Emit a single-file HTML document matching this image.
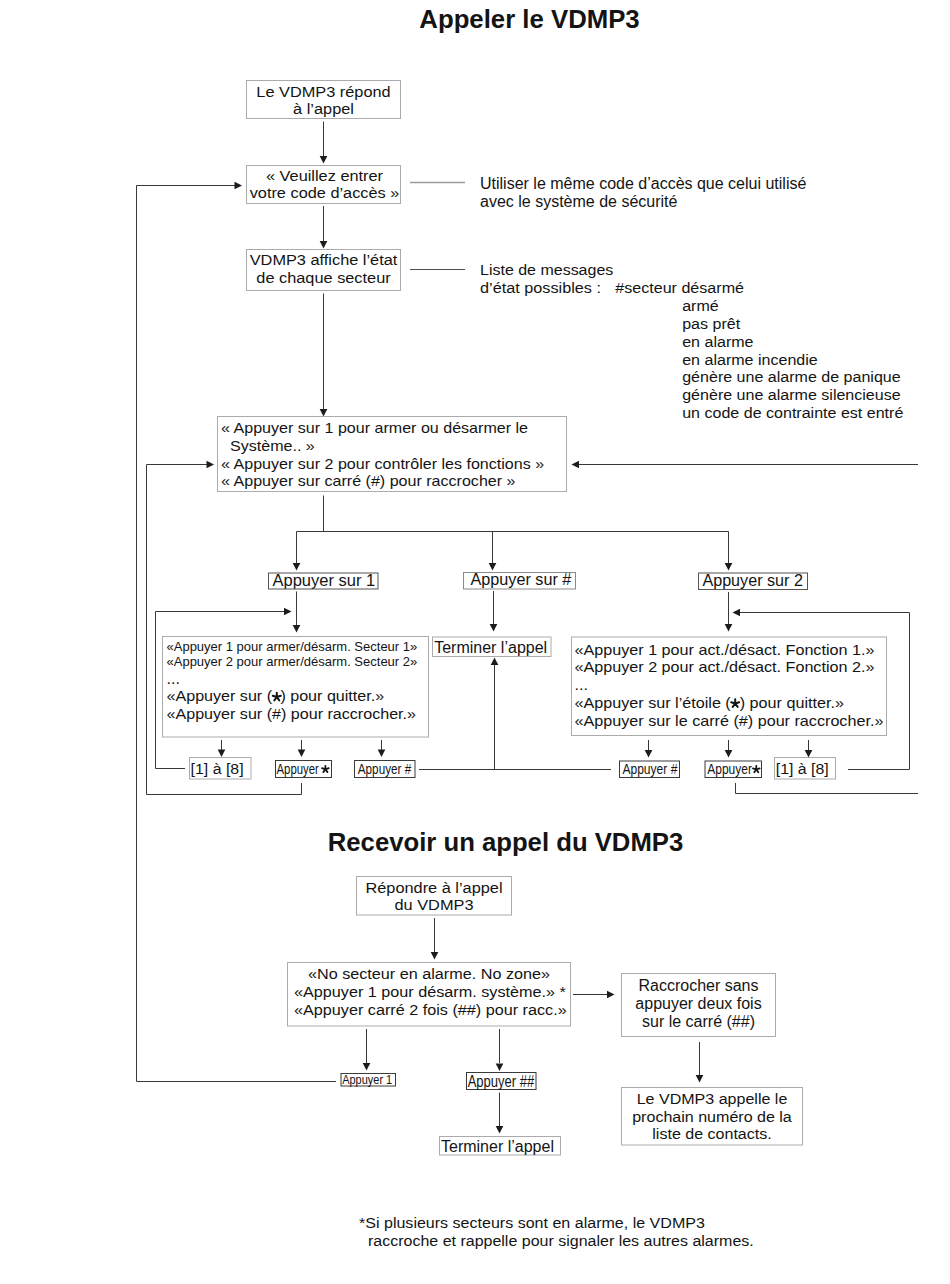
<!DOCTYPE html>
<html><head><meta charset="utf-8"><style>
html,body{margin:0;padding:0;background:#fff;}
body{width:950px;height:1284px;overflow:hidden;}
svg{display:block;}
text{font-family:"Liberation Sans", sans-serif;font-size:16px;fill:#141414;}
</style></head><body>
<svg width="950" height="1284" viewBox="0 0 950 1284">
<rect width="950" height="1284" fill="#fff"/>
<text x="529.5" y="27.5" text-anchor="middle" style="font-size:25.75px;font-weight:bold">Appeler le VDMP3</text>
<text x="505.5" y="850.5" text-anchor="middle" style="font-size:25.7px;font-weight:bold">Recevoir un appel du VDMP3</text>
<rect x="246.5" y="80.5" width="154.0" height="38.0" fill="none" stroke="#ababab" stroke-width="1"/>
<text transform="translate(323.5,96.5) scale(1.075,1)" text-anchor="middle" style="font-size:15.209px">Le VDMP3 répond</text>
<text transform="translate(323.5,113.5) scale(1.075,1)" text-anchor="middle" style="font-size:15.209px">à l’appel</text>
<polyline points="323.5,121.5 323.5,156" fill="none" stroke="#383838" stroke-width="1"/>
<polygon points="319.7,156.0 327.3,156.0 323.5,163.5" fill="#1c1c1c"/>
<rect x="246.5" y="165.5" width="154.0" height="38.0" fill="none" stroke="#ababab" stroke-width="1"/>
<text transform="translate(324.5,180.5) scale(1.075,1)" text-anchor="middle" style="font-size:15.209px">« Veuillez entrer</text>
<text transform="translate(324.5,198) scale(1.075,1)" text-anchor="middle" style="font-size:15.209px">votre code d’accès »</text>
<polyline points="323.5,206 323.5,242" fill="none" stroke="#383838" stroke-width="1"/>
<polygon points="319.7,241.0 327.3,241.0 323.5,248.5" fill="#1c1c1c"/>
<rect x="246.5" y="249.5" width="154.0" height="41.0" fill="none" stroke="#ababab" stroke-width="1"/>
<text transform="translate(323.5,265) scale(1.075,1)" text-anchor="middle" style="font-size:15.209px">VDMP3 affiche l’état</text>
<text transform="translate(323.5,283) scale(1.075,1)" text-anchor="middle" style="font-size:15.209px">de chaque secteur</text>
<polyline points="323.5,293.5 323.5,410" fill="none" stroke="#383838" stroke-width="1"/>
<polygon points="319.7,409.0 327.3,409.0 323.5,416.5" fill="#1c1c1c"/>
<polyline points="410,182.5 465,182.5" fill="none" stroke="#9a9a9a" stroke-width="1.3"/>
<polyline points="410,269.5 465,269.5" fill="none" stroke="#505050" stroke-width="1"/>
<text x="480" y="188.5">Utiliser le même code d’accès que celui utilisé</text>
<text x="480" y="207">avec le système de sécurité</text>
<text transform="translate(480,275) scale(1.05,1)" style="font-size:15.238px">Liste de messages</text>
<text transform="translate(480,293) scale(1.05,1)" style="font-size:15.476px">d’état possibles :</text>
<text transform="translate(615.2,293) scale(1.05,1)" style="font-size:15.333px">#secteur désarmé</text>
<text transform="translate(682.2,311.2) scale(1.04,1)" style="font-size:15.433px">armé</text>
<text transform="translate(682.2,329.0) scale(1.04,1)" style="font-size:15.433px">pas prêt</text>
<text transform="translate(682.2,346.8) scale(1.04,1)" style="font-size:15.433px">en alarme</text>
<text transform="translate(682.2,364.6) scale(1.04,1)" style="font-size:15.433px">en alarme incendie</text>
<text transform="translate(682.2,382.4) scale(1.04,1)" style="font-size:15.433px">génère une alarme de panique</text>
<text transform="translate(682.2,400.2) scale(1.04,1)" style="font-size:15.433px">génère une alarme silencieuse</text>
<text transform="translate(682.2,418.0) scale(1.04,1)" style="font-size:15.433px">un code de contrainte est entré</text>
<polyline points="336,1081.5 136.5,1081.5 136.5,185.5 235,185.5" fill="none" stroke="#383838" stroke-width="1"/>
<polygon points="234.5,181.7 234.5,189.3 242,185.5" fill="#1c1c1c"/>
<rect x="217.5" y="416.5" width="349.0" height="75.0" fill="none" stroke="#ababab" stroke-width="1"/>
<text transform="translate(221,433.3) scale(1.1,1)" style="font-size:14.609px">« Appuyer sur 1 pour armer ou désarmer le</text>
<text transform="translate(230,451) scale(1.1,1)" style="font-size:14.609px">Système.. »</text>
<text transform="translate(221,468.8) scale(1.1,1)" style="font-size:14.609px">« Appuyer sur 2 pour contrôler les fonctions »</text>
<text transform="translate(221,485.9) scale(1.1,1)" style="font-size:14.609px">« Appuyer sur carré (#) pour raccrocher »</text>
<polyline points="146.5,794.5 146.5,464.5 207,464.5" fill="none" stroke="#383838" stroke-width="1"/>
<polygon points="206.5,460.7 206.5,468.3 214,464.5" fill="#1c1c1c"/>
<polyline points="918,464.5 579,464.5" fill="none" stroke="#383838" stroke-width="1"/>
<polygon points="579.0,460.7 579.0,468.3 571.5,464.5" fill="#1c1c1c"/>
<polyline points="323.5,495.5 323.5,531.5" fill="none" stroke="#383838" stroke-width="1"/>
<polyline points="296.5,531.5 728.5,531.5" fill="none" stroke="#383838" stroke-width="1"/>
<polyline points="296.5,531.5 296.5,563" fill="none" stroke="#383838" stroke-width="1"/>
<polygon points="292.7,563.0 300.3,563.0 296.5,570.5" fill="#1c1c1c"/>
<polyline points="492.5,531.5 492.5,563" fill="none" stroke="#383838" stroke-width="1"/>
<polygon points="488.7,563.0 496.3,563.0 492.5,570.5" fill="#1c1c1c"/>
<polyline points="728.5,531.5 728.5,563" fill="none" stroke="#383838" stroke-width="1"/>
<polygon points="724.7,563.0 732.3,563.0 728.5,570.5" fill="#1c1c1c"/>
<text transform="translate(272.5,586) scale(1.03,1)" style="font-size:16.019px">Appuyer sur 1</text>
<rect x="268.5" y="573" width="109.5" height="16" fill="none" stroke="#555" stroke-width="1"/>
<text transform="translate(470.5,585) scale(1.03,1)" style="font-size:15.728px">Appuyer sur #</text>
<rect x="463.5" y="572.5" width="112.0" height="16.5" fill="none" stroke="#8a8a8a" stroke-width="1"/>
<text transform="translate(702.4,586) scale(1.03,1)" style="font-size:15.68px">Appuyer sur 2</text>
<rect x="698.5" y="573" width="109.0" height="16.5" fill="none" stroke="#555" stroke-width="1"/>
<polyline points="296.5,591.5 296.5,625" fill="none" stroke="#383838" stroke-width="1"/>
<polygon points="292.7,625.0 300.3,625.0 296.5,632.5" fill="#1c1c1c"/>
<polyline points="155.5,768.5 155.5,611.5 284,611.5" fill="none" stroke="#383838" stroke-width="1"/>
<polygon points="284.0,607.7 284.0,615.3 291.5,611.5" fill="#1c1c1c"/>
<rect x="162.5" y="636.5" width="266.0" height="100.5" fill="none" stroke="#ababab" stroke-width="1"/>
<text x="166.5" y="651.3" style="font-size:13px">«Appuyer 1 pour armer/désarm. Secteur 1»</text>
<text x="166.5" y="665.5" style="font-size:13px">«Appuyer 2 pour armer/désarm. Secteur 2»</text>
<text x="166.5" y="683.8">...</text>
<text transform="translate(166.5,701.2) scale(1.1,1)" style="font-size:14.636px">«Appuyer sur (<tspan dx="7.6">)</tspan> pour quitter.»</text>
<path d="M276.8,697L276.8,692.8M276.8,697L280.79,695.7M276.8,697L279.27,700.4M276.8,697L274.33,700.4M276.8,697L272.81,695.7" stroke="#141414" stroke-width="2" stroke-linecap="round" fill="none"/>
<text transform="translate(166.5,719.2) scale(1.1,1)" style="font-size:14.636px">«Appuyer sur (#) pour raccrocher.»</text>
<polyline points="221.5,740 221.5,750" fill="none" stroke="#383838" stroke-width="1"/>
<polygon points="217.7,749.5 225.3,749.5 221.5,757" fill="#1c1c1c"/>
<polyline points="301.5,740 301.5,750" fill="none" stroke="#383838" stroke-width="1"/>
<polygon points="297.7,749.5 305.3,749.5 301.5,757" fill="#1c1c1c"/>
<polyline points="381.5,740 381.5,750" fill="none" stroke="#383838" stroke-width="1"/>
<polygon points="377.7,749.5 385.3,749.5 381.5,757" fill="#1c1c1c"/>
<rect x="189.5" y="757.5" width="61.5" height="21.5" fill="none" stroke="#ababab" stroke-width="1"/>
<text transform="translate(190.6,773.6) scale(1.16,1)" style="font-size:13.707px">[1] à [8]</text>
<polyline points="155.5,768.5 185,768.5" fill="none" stroke="#383838" stroke-width="1"/>
<rect x="275.5" y="760.5" width="56.0" height="17.0" fill="none" stroke="#3a3a3a" stroke-width="1"/>
<text x="276.5" y="773.8" textLength="42.4" lengthAdjust="spacingAndGlyphs" style="font-size:14px">Appuyer</text>
<path d="M325.4,769.3L325.4,765.8M325.4,769.3L328.73,768.22M325.4,769.3L327.46,772.13M325.4,769.3L323.34,772.13M325.4,769.3L322.07,768.22" stroke="#141414" stroke-width="1.8" stroke-linecap="round" fill="none"/>
<rect x="354.5" y="760.5" width="60.5" height="17.0" fill="none" stroke="#3a3a3a" stroke-width="1"/>
<text x="357.8" y="773.8" textLength="53.4" lengthAdjust="spacingAndGlyphs" style="font-size:14px">Appuyer #</text>
<polyline points="146.5,794.5 301.5,794.5 301.5,783" fill="none" stroke="#383838" stroke-width="1"/>
<polyline points="419,769.5 611,769.5" fill="none" stroke="#383838" stroke-width="1"/>
<polyline points="494.5,769.5 494.5,665" fill="none" stroke="#383838" stroke-width="1"/>
<polygon points="490.7,665.0 498.3,665.0 494.5,657.5" fill="#1c1c1c"/>
<polyline points="493.5,591 493.5,624" fill="none" stroke="#383838" stroke-width="1"/>
<polygon points="489.7,624.0 497.3,624.0 493.5,631.5" fill="#1c1c1c"/>
<rect x="432.5" y="637" width="118.5" height="19.5" fill="none" stroke="#ababab" stroke-width="1"/>
<text x="434.2" y="652.6">Terminer l’appel</text>
<polyline points="728.5,592 728.5,624" fill="none" stroke="#383838" stroke-width="1"/>
<polygon points="724.7,624.0 732.3,624.0 728.5,631.5" fill="#1c1c1c"/>
<polyline points="909.5,769.5 909.5,612.5 740,612.5" fill="none" stroke="#383838" stroke-width="1"/>
<polygon points="740.0,608.7 740.0,616.3 732.5,612.5" fill="#1c1c1c"/>
<rect x="571.5" y="637" width="315.0" height="98.5" fill="none" stroke="#ababab" stroke-width="1"/>
<text transform="translate(574.5,654.6) scale(1.11,1)" style="font-size:14.568px">«Appuyer 1 pour act./désact. Fonction 1.»</text>
<text transform="translate(574.5,672.3) scale(1.11,1)" style="font-size:14.568px">«Appuyer 2 pour act./désact. Fonction 2.»</text>
<text transform="translate(574.5,690) scale(1.11,1)" style="font-size:14.568px">...</text>
<text transform="translate(574.5,707.7) scale(1.11,1)" style="font-size:14.568px">«Appuyer sur l’étoile (<tspan dx="8.1">)</tspan> pour quitter.»</text>
<path d="M735.2,703.5L735.2,699.3M735.2,703.5L739.19,702.2M735.2,703.5L737.67,706.9M735.2,703.5L732.73,706.9M735.2,703.5L731.21,702.2" stroke="#141414" stroke-width="2" stroke-linecap="round" fill="none"/>
<text transform="translate(574.5,725.5) scale(1.11,1)" style="font-size:14.568px">«Appuyer sur le carré (#) pour raccrocher.»</text>
<polyline points="648.5,740 648.5,750" fill="none" stroke="#383838" stroke-width="1"/>
<polygon points="644.7,750.0 652.3,750.0 648.5,757.5" fill="#1c1c1c"/>
<polyline points="728.5,740 728.5,750" fill="none" stroke="#383838" stroke-width="1"/>
<polygon points="724.7,750.0 732.3,750.0 728.5,757.5" fill="#1c1c1c"/>
<polyline points="808.5,740 808.5,750" fill="none" stroke="#383838" stroke-width="1"/>
<polygon points="804.7,750.0 812.3,750.0 808.5,757.5" fill="#1c1c1c"/>
<rect x="619.5" y="761" width="60.0" height="16.5" fill="none" stroke="#3a3a3a" stroke-width="1"/>
<text x="622.4" y="773.8" textLength="55" lengthAdjust="spacingAndGlyphs" style="font-size:14px">Appuyer #</text>
<rect x="705" y="761" width="56.5" height="16.5" fill="none" stroke="#3a3a3a" stroke-width="1"/>
<text x="707.3" y="773.8" textLength="44.6" lengthAdjust="spacingAndGlyphs" style="font-size:14px">Appuyer</text>
<path d="M756.3,769.5L756.3,766.0M756.3,769.5L759.63,768.42M756.3,769.5L758.36,772.33M756.3,769.5L754.24,772.33M756.3,769.5L752.97,768.42" stroke="#141414" stroke-width="1.8" stroke-linecap="round" fill="none"/>
<rect x="774.5" y="757.5" width="61.0" height="21.5" fill="none" stroke="#ababab" stroke-width="1"/>
<text transform="translate(775.8,773.6) scale(1.16,1)" style="font-size:13.707px">[1] à [8]</text>
<polyline points="848,769.5 909.5,769.5" fill="none" stroke="#383838" stroke-width="1"/>
<polyline points="735.5,783 735.5,793.5 918,793.5" fill="none" stroke="#383838" stroke-width="1"/>
<rect x="356.5" y="876.5" width="155.0" height="38.5" fill="none" stroke="#ababab" stroke-width="1"/>
<text transform="translate(434,893) scale(1.15,1)" text-anchor="middle" style="font-size:14.217px">Répondre à l’appel</text>
<text transform="translate(434,909.7) scale(1.15,1)" text-anchor="middle" style="font-size:14.217px">du VDMP3</text>
<polyline points="434.5,918 434.5,952" fill="none" stroke="#383838" stroke-width="1"/>
<polygon points="430.7,952.0 438.3,952.0 434.5,959.5" fill="#1c1c1c"/>
<rect x="287.5" y="962.5" width="283.0" height="63.5" fill="none" stroke="#ababab" stroke-width="1"/>
<text transform="translate(429,979.3) scale(1.15,1)" text-anchor="middle" style="font-size:14.087px">«No secteur en alarme. No zone»</text>
<text transform="translate(294,997.3) scale(1.15,1)" style="font-size:14.087px">«Appuyer 1 pour désarm. système.» *</text>
<text transform="translate(294,1015) scale(1.15,1)" style="font-size:14.087px">«Appuyer carré 2 fois (##) pour racc.»</text>
<polyline points="573,994.5 607,994.5" fill="none" stroke="#383838" stroke-width="1"/>
<polygon points="607.0,990.7 607.0,998.3 614.5,994.5" fill="#1c1c1c"/>
<polyline points="366.5,1029 366.5,1063" fill="none" stroke="#383838" stroke-width="1"/>
<polygon points="362.7,1063.0 370.3,1063.0 366.5,1070.5" fill="#1c1c1c"/>
<polyline points="499.5,1029 499.5,1063" fill="none" stroke="#383838" stroke-width="1"/>
<polygon points="495.7,1063.5 503.3,1063.5 499.5,1071" fill="#1c1c1c"/>
<rect x="341" y="1073.5" width="54.5" height="12.5" fill="none" stroke="#3a3a3a" stroke-width="1"/>
<text x="342.2" y="1083.5" textLength="50" lengthAdjust="spacingAndGlyphs" style="font-size:12px">Appuyer 1</text>
<rect x="466.5" y="1072.5" width="69.5" height="17.0" fill="none" stroke="#3a3a3a" stroke-width="1"/>
<text x="467.7" y="1087" textLength="66.5" lengthAdjust="spacingAndGlyphs">Appuyer ##</text>
<polyline points="499.5,1092.5 499.5,1126" fill="none" stroke="#383838" stroke-width="1"/>
<polygon points="495.7,1126.0 503.3,1126.0 499.5,1133.5" fill="#1c1c1c"/>
<rect x="439.5" y="1136.5" width="121.0" height="18.5" fill="none" stroke="#ababab" stroke-width="1"/>
<text x="441" y="1151.5">Terminer l’appel</text>
<rect x="621.5" y="973.5" width="154.0" height="63.0" fill="none" stroke="#ababab" stroke-width="1"/>
<text x="698.5" y="990.8" text-anchor="middle">Raccrocher sans</text>
<text x="698.5" y="1008.6" text-anchor="middle">appuyer deux fois</text>
<text x="698.5" y="1026.5" text-anchor="middle">sur le carré (##)</text>
<polyline points="699.5,1042 699.5,1075" fill="none" stroke="#383838" stroke-width="1"/>
<polygon points="695.7,1075.0 703.3,1075.0 699.5,1082.5" fill="#1c1c1c"/>
<rect x="621.5" y="1087.5" width="181.0" height="57.5" fill="none" stroke="#ababab" stroke-width="1"/>
<text transform="translate(712,1104) scale(1.09,1)" text-anchor="middle" style="font-size:14.725px">Le VDMP3 appelle le</text>
<text transform="translate(712,1121.8) scale(1.09,1)" text-anchor="middle" style="font-size:14.725px">prochain numéro de la</text>
<text transform="translate(712,1139.3) scale(1.09,1)" text-anchor="middle" style="font-size:14.725px">liste de contacts.</text>
<text transform="translate(359,1227.6) scale(1.09,1)" style="font-size:14.725px">*Si plusieurs secteurs sont en alarme, le VDMP3</text>
<text transform="translate(368,1245.8) scale(1.09,1)" style="font-size:14.679px">raccroche et rappelle pour signaler les autres alarmes.</text>
</svg>
</body></html>
